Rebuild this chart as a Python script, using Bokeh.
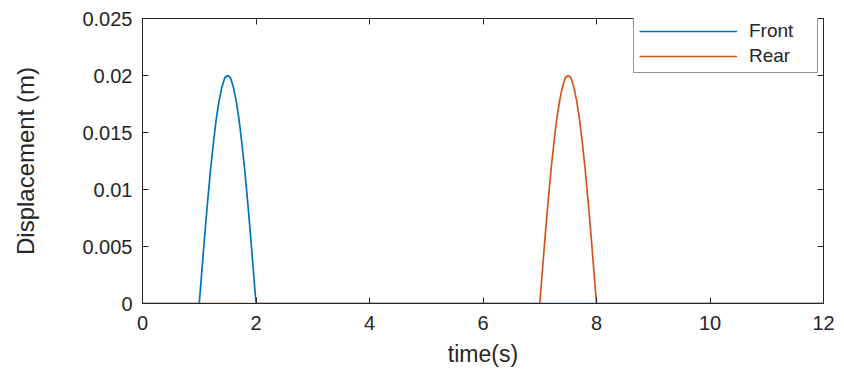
from bokeh.plotting import figure
from bokeh.models import Range1d, LinearAxis, FixedTicker, Legend, LegendItem
from bokeh.embed import file_html
from bokeh.resources import INLINE

# ---- data ----
front_time = [0, 1.0, 1.05, 1.1, 1.15, 1.2, 1.25, 1.3, 1.35, 1.4, 1.45, 1.5,
              1.55, 1.6, 1.65, 1.7, 1.75, 1.8, 1.85, 1.9, 1.95, 2.0, 12]
front_disp = [0, 0, 0.0031, 0.0062, 0.0091, 0.0118, 0.0141, 0.0162, 0.0178, 0.0190, 0.0198, 0.0200,
              0.0198, 0.0190, 0.0178, 0.0162, 0.0141, 0.0118, 0.0091, 0.0062, 0.0031, 0, 0]
rear_time = [0, 7.0, 7.05, 7.1, 7.15, 7.2, 7.25, 7.3, 7.35, 7.4, 7.45, 7.5,
             7.55, 7.6, 7.65, 7.7, 7.75, 7.8, 7.85, 7.9, 7.95, 8.0, 12]
rear_disp = [0, 0, 0.0031, 0.0062, 0.0091, 0.0118, 0.0141, 0.0162, 0.0178, 0.0190, 0.0198, 0.0200,
             0.0198, 0.0190, 0.0178, 0.0162, 0.0141, 0.0118, 0.0091, 0.0062, 0.0031, 0, 0]
series_names = ["Front", "Rear"]
x_ticks = [0, 2, 4, 6, 8, 10, 12]
x_tick_labels = ["0", "2", "4", "6", "8", "10", "12"]
y_ticks = [0, 0.005, 0.01, 0.015, 0.02, 0.025]
y_tick_labels = ["0", "0.005", "0.01", "0.015", "0.02", "0.025"]

FONT = "Liberation Sans"
TXT = "#262626"
BLUE = "#0072BD"
ORANGE = "#D95319"

p = figure(width=844, height=371, output_backend="svg", toolbar_location=None,
           x_range=Range1d(0, 12), y_range=Range1d(0, 0.025),
           x_axis_location=None, y_axis_location=None,
           min_border_left=142, min_border_right=21, min_border_top=18, min_border_bottom=68)
p.background_fill_color = "white"
p.border_fill_color = "white"
p.outline_line_color = TXT
p.outline_line_width = 1
p.xgrid.visible = False
p.ygrid.visible = False

def style_axis(ax, ticks, labels, show_labels):
    ax.ticker = FixedTicker(ticks=ticks)
    ax.major_tick_in = 6
    ax.major_tick_out = 0
    ax.minor_tick_line_color = None
    ax.axis_line_color = TXT
    ax.major_tick_line_color = TXT
    ax.major_label_text_font = FONT
    ax.major_label_text_color = TXT
    ax.major_label_text_font_size = "20px"
    if show_labels:
        ax.major_label_overrides = {t: l for t, l in zip(ticks, labels)}
        ax.major_label_standoff = 12
    else:
        ax.major_label_overrides = {t: "" for t in ticks}
        ax.major_label_standoff = 0

xb = LinearAxis(axis_label="time(s)")
style_axis(xb, x_ticks, x_tick_labels, True)
xb.axis_label_text_font = FONT
xb.axis_label_text_font_size = "23px"
xb.axis_label_text_font_style = "normal"
xb.axis_label_text_color = TXT
xb.axis_label_standoff = 8
p.add_layout(xb, "below")

yl = LinearAxis(axis_label="Displacement (m)")
style_axis(yl, y_ticks, y_tick_labels, True)
yl.major_label_standoff = 10
yl.axis_label_text_font = FONT
yl.axis_label_text_font_size = "24px"
yl.axis_label_text_font_style = "normal"
yl.axis_label_text_color = TXT
yl.axis_label_standoff = 40
p.add_layout(yl, "left")

xt = LinearAxis()
style_axis(xt, x_ticks, x_tick_labels, False)
p.add_layout(xt, "above")
yr = LinearAxis()
style_axis(yr, y_ticks, y_tick_labels, False)
p.add_layout(yr, "right")

r1 = p.line(front_time, front_disp, line_color=BLUE, line_width=1.7)
r2 = p.line(rear_time, rear_disp, line_color=ORANGE, line_width=1.7)

legend = Legend(items=[LegendItem(label=series_names[0], renderers=[r1]),
                       LegendItem(label=series_names[1], renderers=[r2])],
                location=(491, 230))
legend.label_text_font = FONT
legend.label_text_font_size = "19px"
legend.label_text_color = TXT
legend.border_line_color = TXT
legend.border_line_width = 1
legend.background_fill_color = "white"
legend.background_fill_alpha = 1
legend.padding = 5
legend.spacing = 3
legend.margin = 0
legend.glyph_width = 98
legend.glyph_height = 18
legend.label_height = 18
legend.label_width = 63
legend.label_standoff = 12
p.add_layout(legend, "center")

open("out.html", "w").write(file_html(p, INLINE))
